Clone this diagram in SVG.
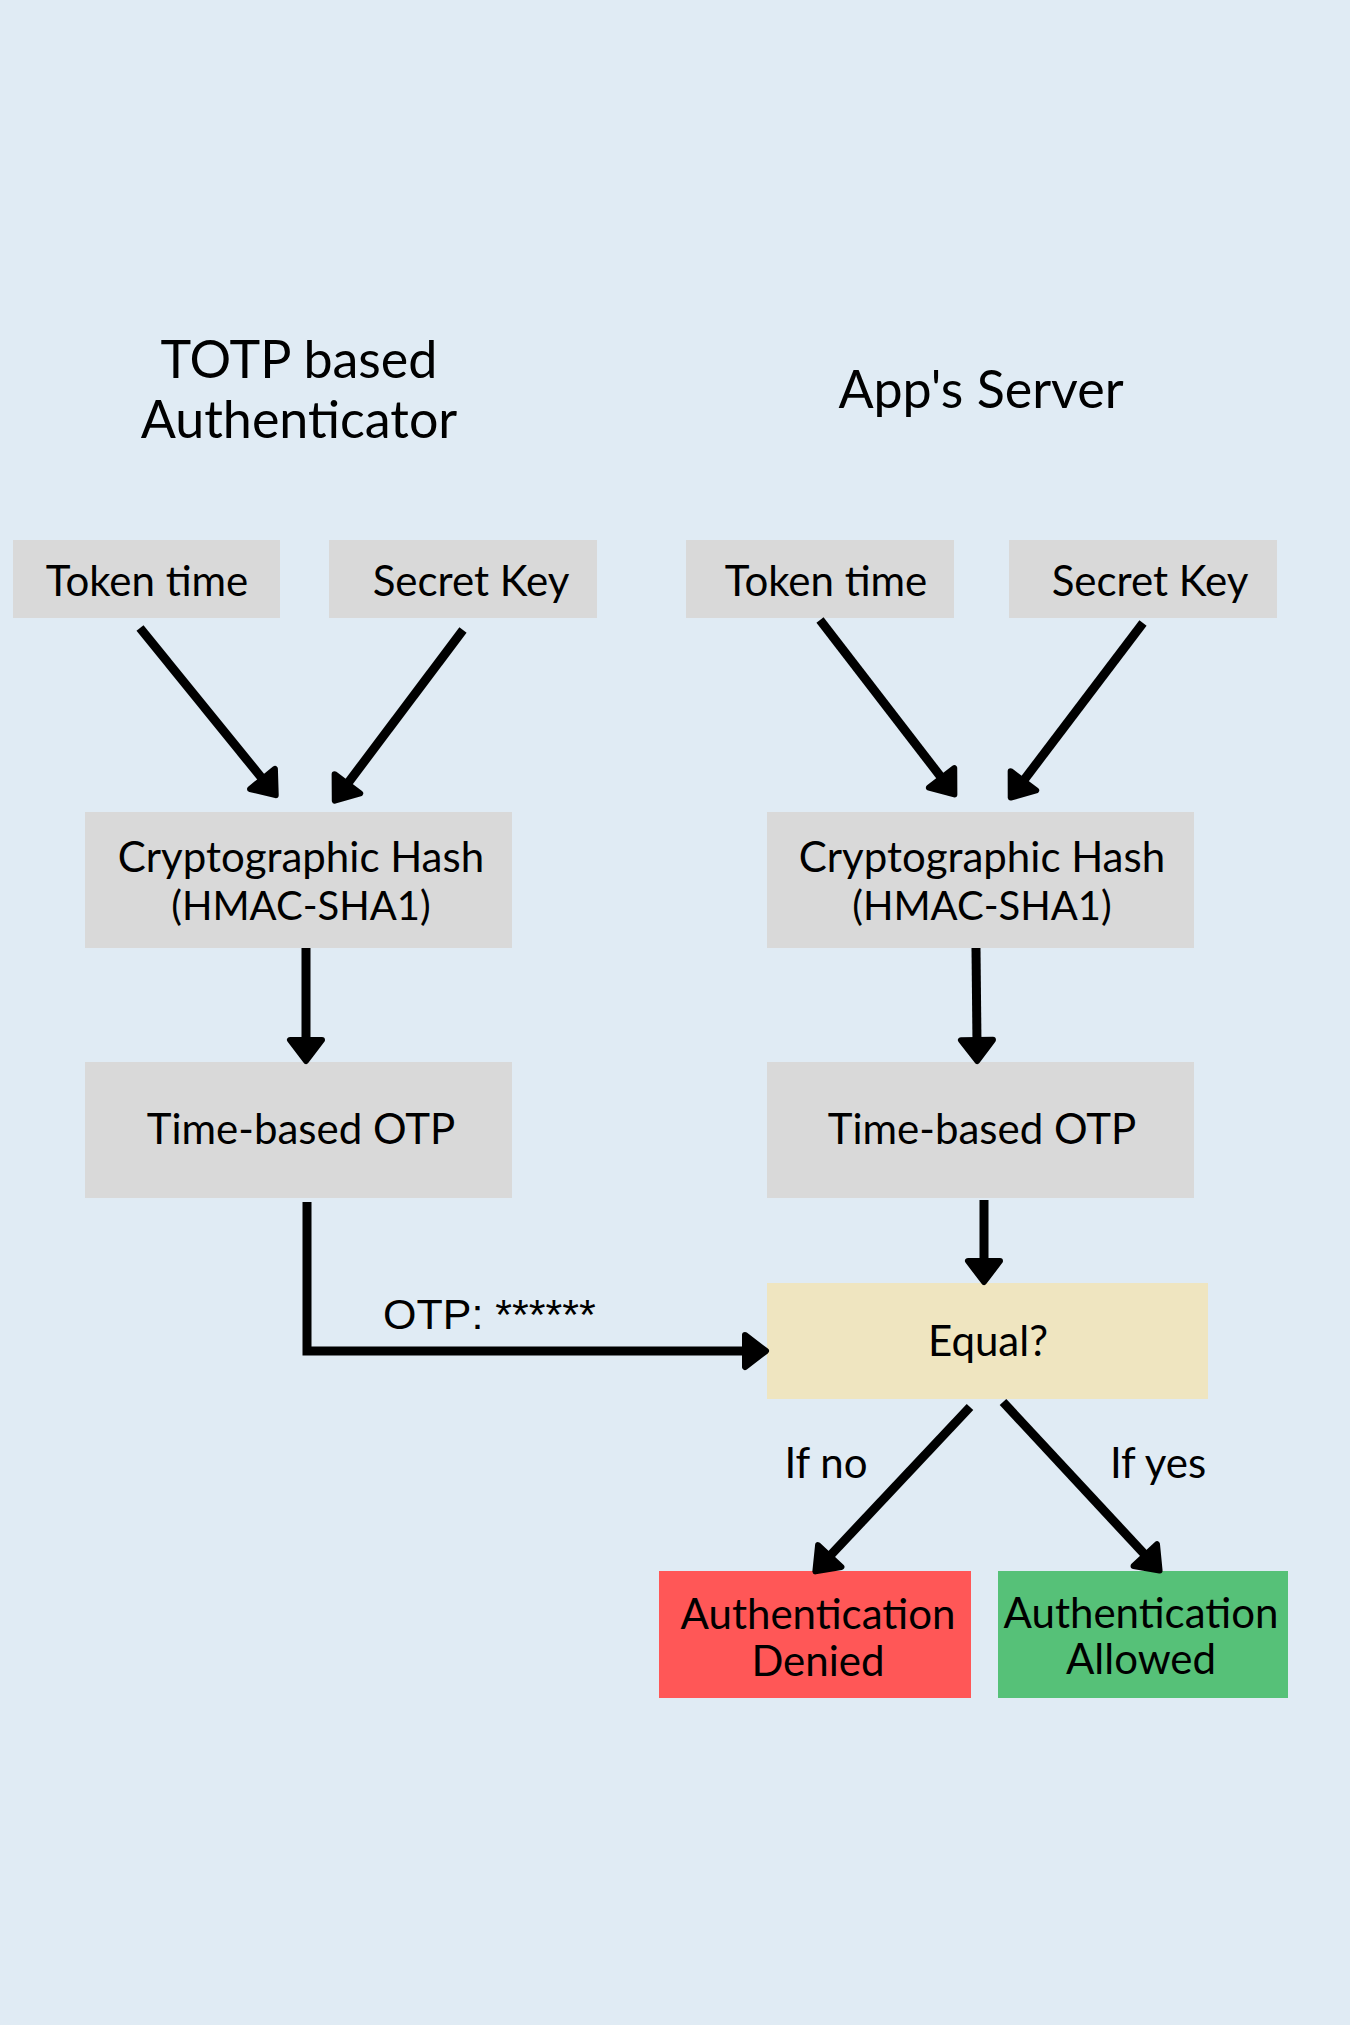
<svg xmlns="http://www.w3.org/2000/svg" width="1350" height="2025" viewBox="0 0 1350 2025">
<defs>
<style>
.bg{fill:#E0EBF4}
.box{fill:#D9D9D9}
.t{font-family:Lato,"Open Sans","Liberation Sans",sans-serif;font-size:42px;fill:#000;text-anchor:middle}
.sm{font-size:40px}
.title{font-size:52px}
.lbl{font-family:"Liberation Sans",Arial,sans-serif;font-size:43px;fill:#000}
.c{fill:none;stroke:#000;stroke-width:9}
</style>
<marker id="ah" markerUnits="userSpaceOnUse" viewBox="-12 -24 40 48" markerWidth="40" markerHeight="48" refX="0" refY="0" orient="auto" overflow="visible">
<path d="M-4,-16 L17,0 L-4,16 Z" fill="#000" stroke="#000" stroke-width="6" stroke-linejoin="round"/>
</marker>
</defs>
<rect class="bg" x="0" y="0" width="1350" height="2025"/>

<g id="title-left">
<text class="t title" x="299" y="378">TOTP based</text>
<text class="t title" x="299" y="438">Authenticator</text>
</g>
<g id="title-right">
<text class="t title" x="981" y="408">App's Server</text>
</g>

<g id="token-time-left">
<rect class="box" x="13" y="540" width="267" height="78"/>
<text class="t" x="147" y="596">Token time</text>
</g>
<g id="secret-key-left">
<rect class="box" x="329" y="540" width="268" height="78"/>
<text class="t" x="471" y="596">Secret Key</text>
</g>
<g id="token-time-right">
<rect class="box" x="686" y="540" width="268" height="78"/>
<text class="t" x="826" y="596">Token time</text>
</g>
<g id="secret-key-right">
<rect class="box" x="1009" y="540" width="268" height="78"/>
<text class="t" x="1150" y="596">Secret Key</text>
</g>

<g id="hash-left">
<rect class="box" x="85" y="812" width="427" height="136"/>
<text class="t" x="301" y="872">Cryptographic Hash</text>
<text class="t sm" x="301" y="920">(HMAC-SHA1)</text>
</g>
<g id="hash-right">
<rect class="box" x="767" y="812" width="427" height="136"/>
<text class="t" x="982" y="872">Cryptographic Hash</text>
<text class="t sm" x="982" y="920">(HMAC-SHA1)</text>
</g>

<g id="otp-left">
<rect class="box" x="85" y="1062" width="427" height="136"/>
<text class="t" x="301" y="1144">Time-based OTP</text>
</g>
<g id="otp-right">
<rect class="box" x="767" y="1062" width="427" height="136"/>
<text class="t" x="982" y="1144">Time-based OTP</text>
</g>

<g id="equal">
<rect x="767" y="1283" width="441" height="116" fill="#EFE5C0"/>
<text class="t" x="988" y="1356">Equal?</text>
</g>

<g id="denied">
<rect x="659" y="1571" width="312" height="127" fill="#FF5757"/>
<text class="t" x="818" y="1629">Authentication</text>
<text class="t" x="818" y="1676">Denied</text>
</g>
<g id="allowed">
<rect x="998" y="1571" width="290" height="127" fill="#56C178"/>
<text class="t" x="1141" y="1628">Authentication</text>
<text class="t" x="1141" y="1674">Allowed</text>
</g>

<g id="connectors">
<line class="c" x1="140" y1="628" x2="265" y2="782" marker-end="url(#ah)"/>
<line class="c" x1="463" y1="630" x2="345" y2="787" marker-end="url(#ah)"/>
<line class="c" x1="820" y1="620" x2="944" y2="781" marker-end="url(#ah)"/>
<line class="c" x1="1143" y1="623" x2="1021" y2="784" marker-end="url(#ah)"/>
<line class="c" x1="306" y1="948" x2="306" y2="1044" marker-end="url(#ah)"/>
<line class="c" x1="976" y1="948" x2="977" y2="1044" marker-end="url(#ah)"/>
<line class="c" x1="984" y1="1200" x2="984" y2="1265" marker-end="url(#ah)"/>
<path class="c" d="M307,1202 V1351 H749" marker-end="url(#ah)"/>
<line class="c" x1="970" y1="1407" x2="827" y2="1559" marker-end="url(#ah)"/>
<line class="c" x1="1003" y1="1402" x2="1148" y2="1558" marker-end="url(#ah)"/>
<text class="lbl" x="383" y="1329">OTP: ******</text>
<text class="t" x="826" y="1478">If no</text>
<text class="t" x="1158" y="1478">If yes</text>
</g>
</svg>
